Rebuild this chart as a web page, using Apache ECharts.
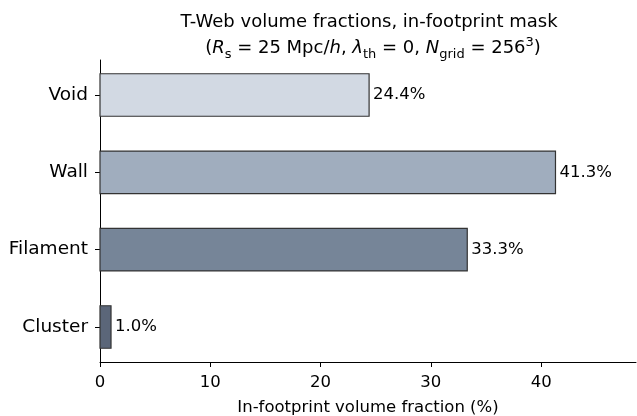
<!DOCTYPE html>
<html><head><meta charset="utf-8">
<script src="https://cdn.jsdelivr.net/npm/echarts@6/dist/echarts.min.js"></script>
<style>html,body{margin:0;padding:0;background:#fff}#c{width:637px;height:416px}</style>
</head><body><div id="c"></div>
<script>
const categories = ['Void', 'Wall', 'Filament', 'Cluster'];
const fractions = [24.4, 41.3, 33.3, 1.0];
const barColors = ['#d2d9e3', '#a0adbe', '#768598', '#5b6679'];
const xTicks = [0, 10, 20, 30, 40];

const FONT = '"DejaVu Sans", sans-serif';
const chart = echarts.init(document.getElementById('c'), null, {renderer: 'canvas'});
const barHeight = 0.55;
const data = fractions.map((v, i) => [v, i]);

chart.setOption({
  animation: false,
  textStyle: {fontFamily: FONT},
  title: [{
    left: 364, textAlign: 'center', top: 8,
    text: 'T-Web volume fractions, in-footprint mask',
    textStyle: {fontFamily: FONT, fontSize: 18, fontWeight: 'normal', color: '#000'}
  }, {
    left: 368, textAlign: 'center', top: 31,
    text: '{n|(}{it|R}{sub|s}{n| = 25 Mpc/}{it|h}{n|, }{it|λ}{sub|th}{n| = 0, }{it|N}{sub|grid}{n| = 256}{sup|3}{n|)}',
    textStyle: {
      fontFamily: FONT, fontSize: 18, fontWeight: 'normal', color: '#000',
      rich: {
        n: {fontFamily: FONT, fontSize: 18, color: '#000', lineHeight: 25},
        it: {fontFamily: FONT, fontSize: 18, fontStyle: 'italic', color: '#000', lineHeight: 25},
        sub: {fontFamily: FONT, fontSize: 13, color: '#000', verticalAlign: 'bottom', lineHeight: 25, padding: [6, 0, 0, 0]},
        sup: {fontFamily: FONT, fontSize: 13, color: '#000', verticalAlign: 'top', lineHeight: 25, padding: [0, 0, 4, 0]}
      }
    }
  }],
  grid: {left: 100, right: 1, top: 60, bottom: 54, outerBoundsMode: 'none'},
  xAxis: {
    type: 'value', min: 0, max: 48.6, interval: 10,
    axisLine: {show: true, onZero: false, lineStyle: {color: '#000', width: 1}},
    axisTick: {show: true, inside: false, length: 5, lineStyle: {color: '#000'}, customValues: xTicks},
    axisLabel: {fontFamily: FONT, fontSize: 16.5, color: '#000', margin: 12,
      customValues: xTicks},
    splitLine: {show: false},
    name: 'In-footprint volume fraction (%)', nameLocation: 'middle', nameGap: 37,
    nameTextStyle: {fontFamily: FONT, fontSize: 16.5, color: '#000'}
  },
  yAxis: {
    type: 'value', min: -0.4525, max: 3.4525, inverse: true,
    axisLine: {show: true, onZero: false, lineStyle: {color: '#000', width: 1}},
    axisTick: {show: true, inside: false, length: 5, lineStyle: {color: '#000'}, customValues: [0, 1, 2, 3]},
    axisLabel: {fontFamily: FONT, fontSize: 18.5, color: '#000', margin: 12,
      customValues: [0, 1, 2, 3], formatter: v => categories[Math.round(v)]},
    splitLine: {show: false}
  },
  series: [{
    type: 'custom',
    encode: {x: 0, y: 1},
    data: data,
    renderItem: function (params, api) {
      const val = api.value(0), idx = api.value(1);
      const p0 = api.coord([0, idx]);
      const p1 = api.coord([val, idx]);
      const h = api.size([0, barHeight])[1];
      return {
        type: 'group',
        children: [
          {type: 'rect', shape: {x: p0[0], y: p0[1] - h / 2, width: p1[0] - p0[0], height: h},
            style: {fill: barColors[idx], stroke: '#333', lineWidth: 1.2}},
          {type: 'text', style: {text: val.toFixed(1) + '%', x: p1[0] + 4, y: p1[1],
            verticalAlign: 'middle', align: 'left', fontFamily: FONT, fontSize: 16.5, fill: '#000'}}
        ]
      };
    }
  }]
});
</script></body></html>
